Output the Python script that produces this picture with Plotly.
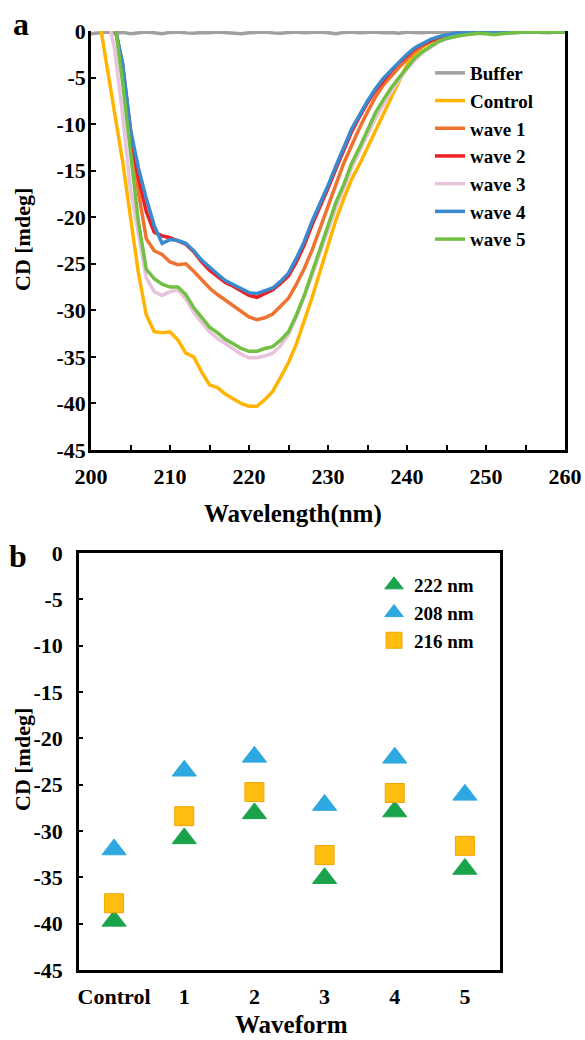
import plotly.graph_objects as go

W, H = 585, 1040


def px(x):
    return x / W


def py(y):
    return 1 - y / H


# ---------------- Panel a : CD spectra ----------------
wavelength = list(range(200, 261))

buffer = [-0.3, -0.2, -0.1, -0.25, -0.15, -0.3, -0.2, -0.1, -0.2, -0.3,
          -0.15, -0.1, -0.2, -0.25, -0.15, -0.2, -0.1, -0.15, -0.2, -0.3,
          -0.2, -0.15, -0.1, -0.2, -0.25, -0.15, -0.1, -0.2, -0.15, -0.1,
          -0.2, -0.3, -0.15, -0.1, -0.2, -0.15, -0.1, -0.2, -0.15, -0.25,
          -0.1, -0.15, -0.2, -0.1, -0.15, -0.2, -0.1, -0.1, -0.15, -0.2,
          -0.1, -0.15, -0.1, -0.2, -0.15, -0.1, -0.1, -0.15, -0.2, -0.1, -0.1]

control = [4.0, 1.5, -3.7, -8.8, -14.0, -20.0, -26.0, -30.5, -32.3, -32.4,
           -32.3, -33.2, -34.6, -35.0, -36.6, -38.0, -38.3, -39.0, -39.5, -40.0,
           -40.3, -40.3, -39.6, -38.7, -37.2, -35.6, -33.6, -31.2, -28.6, -25.8,
           -23.0, -20.3, -18.0, -15.9, -14.3, -12.5, -10.6, -8.9, -7.0, -5.2,
           -3.6, -2.5, -1.7, -1.2, -0.8, -0.5, -0.35, -0.25, -0.2, -0.15,
           -0.15, -0.1, -0.1, -0.15, -0.1, -0.1, -0.1, -0.05, -0.1, -0.1, -0.1]

wave1 = [6.0, 5.0, 3.0, 0.5, -3.8, -10.8, -17.3, -22.3, -23.6, -24.0,
         -24.8, -25.1, -25.0, -25.8, -26.7, -27.6, -28.3, -28.9, -29.5, -30.1,
         -30.7, -31.0, -30.8, -30.4, -29.6, -28.7, -27.2, -25.5, -23.5, -21.1,
         -18.8, -16.5, -14.2, -12.2, -10.4, -8.7, -7.1, -5.8, -4.8, -3.9,
         -3.0, -2.2, -1.6, -1.1, -0.75, -0.5, -0.3, -0.2, -0.15, -0.1,
         -0.1, -0.1, -0.1, -0.1, -0.1, -0.1, -0.1, -0.1, -0.1, -0.1, -0.1]

wave2 = [6.0, 5.0, 3.0, 0.5, -3.6, -11.0, -15.8, -19.4, -21.6, -22.0,
         -22.2, -22.6, -22.9, -23.7, -24.8, -25.7, -26.4, -27.0, -27.4, -27.9,
         -28.4, -28.6, -28.2, -27.8, -27.1, -26.3, -24.8, -23.0, -20.8, -18.9,
         -16.9, -14.8, -12.8, -10.8, -9.2, -7.7, -6.4, -5.3, -4.3, -3.4,
         -2.6, -1.9, -1.4, -1.0, -0.7, -0.45, -0.3, -0.2, -0.15, -0.1,
         -0.1, -0.1, -0.1, -0.1, -0.1, -0.1, -0.1, -0.1, -0.1, -0.1, -0.1]

wave3 = [7.0, 5.0, 2.0, -2.0, -9.0, -17.0, -21.8, -26.5, -28.0, -28.4,
         -28.0, -27.8, -28.8, -30.2, -31.3, -32.3, -33.0, -33.6, -34.2, -34.7,
         -35.1, -35.1, -34.9, -34.6, -33.8, -32.6, -30.7, -28.5, -26.2, -23.8,
         -21.4, -19.0, -16.9, -14.7, -12.9, -11.1, -9.4, -7.9, -6.5, -5.2,
         -4.1, -3.1, -2.3, -1.7, -1.2, -0.85, -0.55, -0.4, -0.3, -0.2,
         -0.15, -0.15, -0.1, -0.1, -0.1, -0.1, -0.1, -0.1, -0.1, -0.1, -0.1]

wave4 = [6.0, 5.0, 3.0, 0.5, -3.5, -10.6, -14.7, -18.0, -20.9, -22.8,
         -22.4, -22.5, -22.8, -23.6, -24.6, -25.4, -26.1, -26.8, -27.2, -27.6,
         -28.1, -28.2, -27.9, -27.6, -26.9, -26.0, -24.4, -22.6, -20.4, -18.6,
         -16.6, -14.5, -12.5, -10.5, -9.0, -7.5, -6.2, -5.1, -4.2, -3.3,
         -2.5, -1.8, -1.3, -0.9, -0.6, -0.4, -0.25, -0.2, -0.15, -0.1,
         -0.1, -0.1, -0.1, -0.1, -0.1, -0.1, -0.1, -0.1, -0.1, -0.1, -0.1]

wave5 = [7.0, 5.5, 3.5, 1.0, -5.5, -13.3, -20.5, -25.6, -26.6, -27.2,
         -27.5, -27.5, -28.3, -29.7, -30.8, -31.8, -32.4, -33.1, -33.6, -34.1,
         -34.4, -34.4, -34.1, -33.9, -33.2, -32.3, -30.5, -28.4, -25.9, -23.3,
         -21.0, -18.4, -16.5, -14.2, -12.5, -10.6, -8.8, -7.4, -6.1, -5.0,
         -3.9, -2.9, -2.2, -1.6, -1.1, -0.8, -0.6, -0.45, -0.35, -0.25,
         -0.3, -0.4, -0.3, -0.2, -0.15, -0.1, -0.1, -0.1, -0.1, -0.1, -0.1]

spectra_names = ["Buffer", "Control", "wave 1", "wave 2", "wave 3", "wave 4", "wave 5"]
spectra_values = [buffer, control, wave1, wave2, wave3, wave4, wave5]
spectra_colors = ["#A0A0A0", "#FFB400", "#EE7330", "#EE2024", "#E8C3DC", "#3A8AD0", "#72C043"]

wl_ticks = [200, 210, 220, 230, 240, 250, 260]
cd_ticks = [0, -5, -10, -15, -20, -25, -30, -35, -40, -45]

# ---------------- Panel b : CD at selected wavelengths ----------------
waveforms = ["Control", "1", "2", "3", "4", "5"]
cd_222 = [-39.7, -30.8, -28.1, -35.1, -27.9, -34.1]
cd_208 = [-32.0, -23.5, -22.0, -27.2, -22.1, -26.1]
cd_216 = [-37.8, -28.4, -25.8, -32.6, -25.9, -31.6]

FONT = "Liberation Serif"

fig = go.Figure()

for name, vals, col in zip(spectra_names, spectra_values, spectra_colors):
    assert len(vals) == len(wavelength)
    fig.add_trace(go.Scatter(
        x=wavelength, y=vals, name=name, mode="lines",
        line=dict(color=col, width=3.5),
        xaxis="x", yaxis="y", legend="legend",
    ))

fig.add_trace(go.Scatter(
    x=waveforms, y=cd_222, name="222 nm", mode="markers",
    marker=dict(symbol="triangle-up", size=21, color="#1BA34B",
                line=dict(color="#1BA34B", width=1)),
    xaxis="x2", yaxis="y2", legend="legend2",
))
fig.add_trace(go.Scatter(
    x=waveforms, y=cd_208, name="208 nm", mode="markers",
    marker=dict(symbol="triangle-up", size=21, color="#2EA8E0",
                line=dict(color="#2EA8E0", width=1)),
    xaxis="x2", yaxis="y2", legend="legend2",
))
fig.add_trace(go.Scatter(
    x=waveforms, y=cd_216, name="216 nm", mode="markers",
    marker=dict(symbol="square", size=19, color="#FFBE10",
                line=dict(color="#F5A300", width=1)),
    xaxis="x2", yaxis="y2", legend="legend2",
))

tickfont = dict(family=FONT, size=22, color="black", weight="bold")
axis_common = dict(showgrid=False, zeroline=False, showline=True,
                   linecolor="black", linewidth=2.5, tickfont=tickfont,
                   tickcolor="black", tickwidth=2, automargin=False)
legend_font = dict(family=FONT, size=19, color="black", weight="bold")

fig.update_layout(
    template="none",
    width=W, height=H,
    margin=dict(l=0, r=0, t=0, b=0, autoexpand=False),
    paper_bgcolor="white", plot_bgcolor="white",
    font=dict(family=FONT, size=21, color="black", weight="bold"),
    xaxis=dict(domain=[px(91), px(565)], range=[200, 260], anchor="y",
               tickvals=wl_ticks, ticktext=[str(v) for v in wl_ticks],
               ticks="inside", ticklen=5, mirror=False,
               minor=dict(ticks="inside", dtick=5, ticklen=5, tickwidth=2, tickcolor="black"),
               ticklabelstandoff=5,
               **axis_common),
    yaxis=dict(domain=[py(450), py(31)], range=[-45, 0], anchor="x",
               tickvals=cd_ticks, ticktext=[str(v) for v in cd_ticks],
               ticks="inside", ticklen=5, mirror=True,
               ticklabelstandoff=-2,
               **axis_common),
    xaxis2=dict(domain=[px(79), px(500)], type="category",
                categoryorder="array", categoryarray=waveforms,
                range=[-0.5, 5.5], anchor="y2", ticks="", mirror=True,
                ticklabelstandoff=5,
                **axis_common),
    yaxis2=dict(domain=[py(970), py(553)], range=[-45, 0], anchor="x2",
                tickvals=cd_ticks, ticktext=[str(v) for v in cd_ticks],
                ticks="inside", ticklen=4, mirror=True,
                ticklabelstandoff=9,
                **axis_common),
    legend=dict(x=px(430), y=py(54), xanchor="left", yanchor="top",
                bgcolor="rgba(0,0,0,0)", borderwidth=0,
                font=legend_font, tracegroupgap=0),
    legend2=dict(x=px(374), y=py(566), xanchor="left", yanchor="top",
                 bgcolor="rgba(0,0,0,0)", borderwidth=0,
                 font=legend_font, tracegroupgap=0),
    showlegend=True,
)

ann_font = dict(family=FONT, color="black", weight="bold")
annotations = [
    dict(text="a", x=px(21), y=py(24), font=dict(size=32, **ann_font)),
    dict(text="b", x=px(18), y=py(556), font=dict(size=32, **ann_font)),
    dict(text="Wavelength(nm)", x=px(293), y=py(514), font=dict(size=25, **ann_font)),
    dict(text="Waveform", x=px(291), y=py(1024), font=dict(size=25, **ann_font)),
    dict(text="CD [mdeg]", x=px(22), y=py(240), textangle=-90, font=dict(size=22, **ann_font)),
    dict(text="CD [mdeg]", x=px(22), y=py(760), textangle=-90, font=dict(size=22, **ann_font)),
]
for a in annotations:
    fig.add_annotation(xref="paper", yref="paper", xanchor="center", yanchor="middle",
                       showarrow=False, **a)

fig.write_html("out.html", config={"displayModeBar": False},
               post_script="document.body.style.margin='0';")
